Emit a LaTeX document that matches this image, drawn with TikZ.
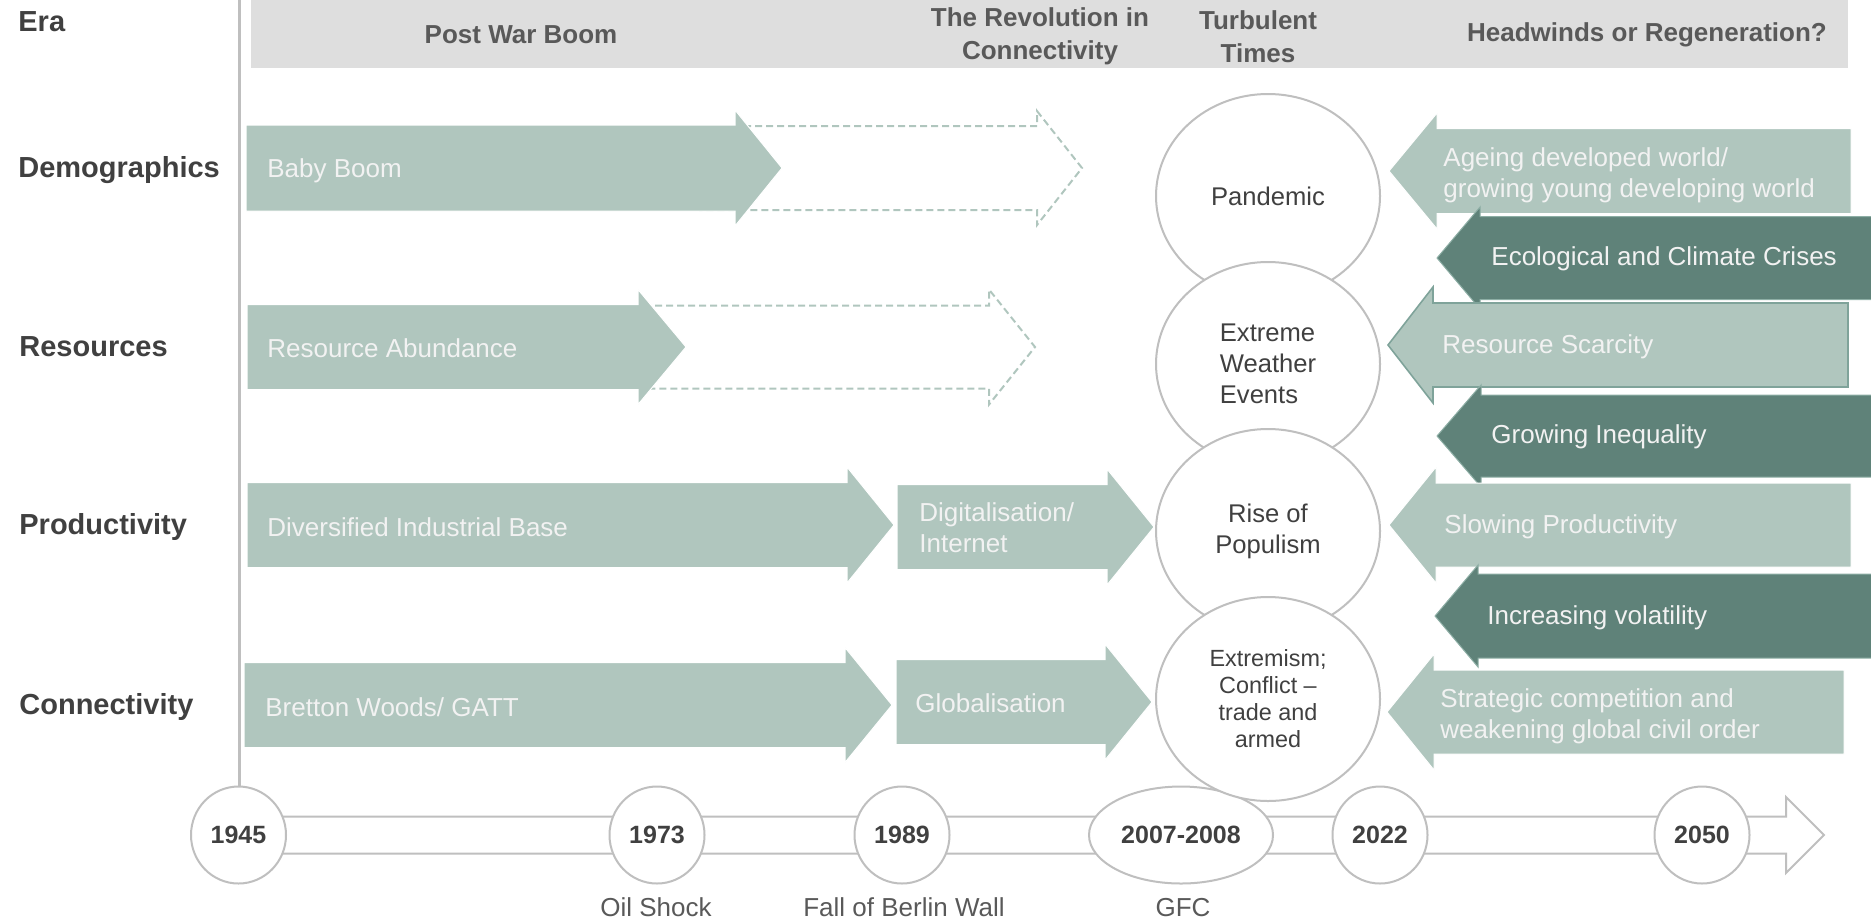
\documentclass[tikz,border=0pt]{standalone}
\usepackage{fontspec}
\setmainfont{Liberation Sans}
\usetikzlibrary{shapes.geometric}
\definecolor{lightg}{HTML}{B0C6BE}
\definecolor{darkg}{HTML}{5F8279}
\definecolor{darkedge}{HTML}{8DAEA5}
\definecolor{dashg}{HTML}{B0C6BE}
\definecolor{scarcedge}{HTML}{7FA39A}
\definecolor{band}{HTML}{DEDEDE}
\definecolor{lgray}{HTML}{BFBFBF}
\definecolor{hdrtxt}{HTML}{595959}
\definecolor{lbltxt}{HTML}{404040}
\definecolor{paletxt}{HTML}{F2F2F2}
% #1 style, #2 start x, #3 head base x, #4 tip x, #5 mid y, #6 body half, #7 head half
\newcommand{\ArrowShape}[7]{\path[#1] ({#2},{#5-#6}) -- ({#3},{#5-#6}) -- ({#3},{#5-#7}) -- ({#4},{#5}) -- ({#3},{#5+#7}) -- ({#3},{#5+#6}) -- ({#2},{#5+#6}) -- cycle;}
\tikzset{
  lightarr/.style={fill=lightg, draw=white, line width=0.5pt},
  scarcearr/.style={fill=lightg, draw=scarcedge, line width=0.8pt},
  darkarr/.style={fill=darkg, draw=darkedge, line width=0.5pt},
  dasharr/.style={draw=dashg, line width=1pt, dash pattern=on 3.5pt off 2pt},
  rowlab/.style={anchor=west, inner sep=0pt, text=lbltxt, font=\bfseries\fontsize{14.5}{17}\selectfont},
  hdr/.style={inner sep=0pt, text=hdrtxt, align=center, font=\bfseries\fontsize{13}{16.5}\selectfont},
  arrtxt/.style={anchor=west, inner sep=0pt, text=paletxt, align=left, font=\fontsize{13}{15.5}\selectfont},
  bigc/.style={ellipse, draw=lgray, line width=1pt, fill=white, minimum width=112pt, minimum height=102pt, inner sep=0pt, text=lbltxt, font=\fontsize{12.8}{15.5}\selectfont},
  yc/.style={ellipse, draw=lgray, line width=1pt, fill=white, minimum width=47.5pt, minimum height=48.5pt, inner sep=0pt, text=lbltxt, font=\bfseries\fontsize{12.5}{15}\selectfont},
  evt/.style={inner sep=0pt, text=hdrtxt, font=\fontsize{13}{15.5}\selectfont},
}
\begin{document}
\begin{tikzpicture}[x=0.5pt, y=-0.5pt]
\useasboundingbox (0,0) rectangle (1871,922);
% header band and divider
\fill[band] (251,0) rectangle (1848,68);
\draw[lgray, line width=1.5pt] (239,0) -- (239,786);
% header texts
\node[rowlab] (era) at (18,22) {Era};
\node[hdr] (h1) at (521,35) {Post War Boom};
\node[hdr] (h2) at (1040,36) {The Revolution in\\Connectivity};
\node[hdr] (h3) at (1258,37) {Turbulent\\Times};
\node[hdr] (h4) at (1647,35) {Headwinds or Regeneration?};
% row labels
\node[rowlab] (rdem) at (18,170) {Demographics};
\node[rowlab] (rres) at (19,347) {Resources};
\node[rowlab] (rpro) at (19,527) {Productivity};
\node[rowlab] (rcon) at (19,707) {Connectivity};
% timeline
\ArrowShape{draw=lgray, line width=1pt, fill=white}{239}{1786}{1824}{835}{18.5}{38}
\node[yc] (y1945) at (238.5,835) {1945};
\node[yc] (y1973) at (657,835) {1973};
\node[yc] (y1989) at (902,835) {1989};
\node[yc, minimum width=92pt] (y2007) at (1181,835) {2007-2008};
\node[yc] (y2022) at (1380,835) {2022};
\node[yc] (y2050) at (1702,835) {2050};
\node[evt] (oil) at (656,907) {Oil Shock};
\node[evt] (berlin) at (904,907) {Fall of Berlin Wall};
\node[evt] (gfc) at (1183,908) {GFC};
% left arrows
\ArrowShape{dasharr}{700}{1037}{1082}{168}{42}{57}
\ArrowShape{lightarr}{246}{735}{782}{168}{43}{58}
\node[arrtxt] (baby) at (267,171) {Baby Boom};
\ArrowShape{dasharr}{600}{989}{1035}{347}{41.5}{57.5}
\ArrowShape{lightarr}{247}{638}{686}{347}{42.5}{57.5}
\node[arrtxt] (abund) at (267,348) {Resource Abundance};
\ArrowShape{lightarr}{247}{847}{894}{525}{42.5}{58}
\node[arrtxt] (divers) at (267,527) {Diversified Industrial Base};
\ArrowShape{lightarr}{897}{1107}{1154}{527}{42.5}{58}
\node[arrtxt] (digit) at (919,528) {Digitalisation/\\Internet};
\ArrowShape{lightarr}{244}{845}{892}{705}{42.5}{57.5}
\node[arrtxt] (bretton) at (265,707) {Bretton Woods/ GATT};
\ArrowShape{lightarr}{896}{1105}{1152}{702}{42.5}{58}
\node[arrtxt] (glob) at (915,703) {Globalisation};
% turbulent column
\node[bigc] (pand) at (1268,196) {Pandemic};
\node[bigc, align=left] (weather) at (1268,364) {Extreme\\Weather\\Events};
\node[bigc, align=center] (popul) at (1268,531) {Rise of\\Populism};
\node[bigc, align=center, font=\fontsize{11.7}{13.5}\selectfont] (extrem) at (1268,699) {Extremism;\\Conflict –\\trade and\\armed};
% right arrows
\ArrowShape{lightarr}{1851}{1437}{1389}{171}{42.5}{58}
\node[arrtxt] (ageing) at (1443,175) {Ageing developed world/\\growing young developing world};
\ArrowShape{darkarr}{1880}{1480}{1437}{258}{41.5}{51}
\node[arrtxt] (eco) at (1491,259) {Ecological and Climate Crises};
\ArrowShape{scarcearr}{1848}{1433}{1388}{345}{42}{58}
\node[arrtxt] (scarce) at (1442,347) {Resource Scarcity};
\ArrowShape{darkarr}{1880}{1481}{1437}{436}{41}{51}
\node[arrtxt] (ineq) at (1491,437) {Growing Inequality};
\ArrowShape{lightarr}{1851}{1436}{1389}{525}{42}{58}
\node[arrtxt] (slow) at (1444,527) {Slowing Productivity};
\ArrowShape{darkarr}{1880}{1478}{1435}{616}{42}{51}
\node[arrtxt] (volat) at (1487,618) {Increasing volatility};
\ArrowShape{lightarr}{1844}{1434}{1387}{712}{42}{58}
\node[arrtxt] (strat) at (1440,716) {Strategic competition and\\weakening global civil order};
\end{tikzpicture}
\end{document}
